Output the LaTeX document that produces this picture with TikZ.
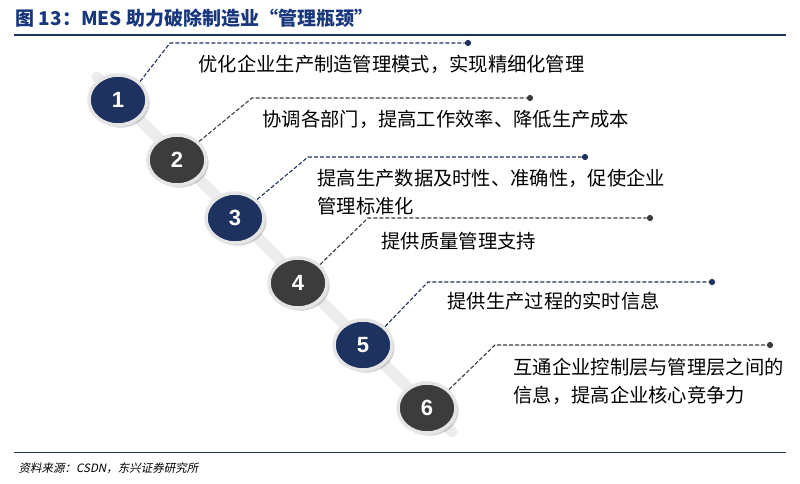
\documentclass[tikz,border=0pt]{standalone}
\usepackage{fontspec}
\setmainfont{Liberation Sans}
\newfontfamily\cjk{Noto Sans CJK SC}
\usetikzlibrary{shadows,shapes.geometric}
\definecolor{navy}{RGB}{30,50,95}
\definecolor{ttl}{RGB}{25,55,125}
\definecolor{dgray}{RGB}{60,60,60}
\tikzset{
  stepdot/.style={ellipse,minimum width=58pt,minimum height=50pt,draw=gray!20,line width=3.5pt,
    text=white,font=\bfseries\fontsize{22}{22}\selectfont,drop shadow={opacity=0.35}},
  lead/.style={dash pattern=on 4pt off 2pt,line width=1.1pt},
  tip/.style={circle,fill,inner sep=2.2pt},
  desc/.style={anchor=west,font=\cjk\fontsize{19.3}{28}\selectfont,align=left,text=black}
}
\begin{document}
\begin{tikzpicture}[x=1pt,y=-1pt]
\useasboundingbox (0,0) rectangle (800,483);
% title and rules
\node[anchor=west,text=ttl,font=\cjk\bfseries\fontsize{19}{19}\selectfont] (title) at (12,18) {图 13：MES 助力破除制造业“管理瓶颈”};
\draw[navy,line width=1.5pt] (14,35) -- (786,35);
\draw[navy,line width=1pt] (14,452) -- (786,452);
\node[anchor=west,font=\cjk\fontsize{11.5}{11.5}\selectfont,xslant=0.2] (src) at (16,468) {资料来源：CSDN，东兴证券研究所};
% rod
\draw[gray!15,line width=11pt,line cap=round] (97,77) -- (452,432);
% steps
\foreach \i/\x/\y/\c/\bx/\by/\ex in {1/118/100/navy/170/43/468, 2/177/160/dgray/252/98/530, 3/235/218/navy/308/157/585,
  4/298/283/dgray/368/218/650, 5/363/345/navy/428/282/712, 6/427/408/dgray/495/345/770}{
  \node[stepdot,fill=\c] (n\i) at (\x,\y) {\i};
  \coordinate (b\i) at (\bx,\by);
  \node[tip,text=\c,fill=\c] (e\i) at (\ex,\by) {};
  \draw[lead,\c] (n\i.40) -- (b\i) -- (e\i);
}
\node[desc] (t1) at (195,64) {优化企业生产制造管理模式，实现精细化管理};
\node[desc] (t2) at (259,119) {协调各部门，提高工作效率、降低生产成本};
\node[desc] (t3) at (314,192) {提高生产数据及时性、准确性，促使企业\\管理标准化};
\node[desc] (t4) at (378,241) {提供质量管理支持};
\node[desc] (t5) at (444,301) {提供生产过程的实时信息};
\node[desc] (t6) at (510,381) {互通企业控制层与管理层之间的\\信息，提高企业核心竞争力};
\end{tikzpicture}
\end{document}
